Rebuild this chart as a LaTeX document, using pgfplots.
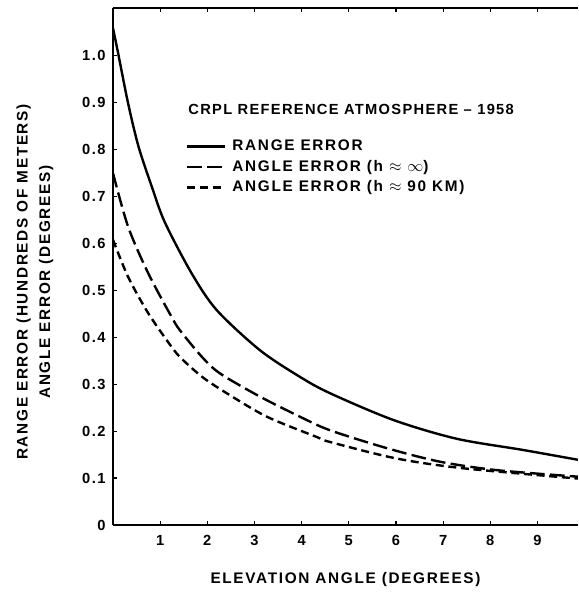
\documentclass[border=0pt]{standalone}
\usepackage{fontspec}
\setmainfont{Liberation Sans}
\newfontfamily\labfont[LetterSpace=11]{Liberation Sans}
\newfontfamily\titfont[LetterSpace=9]{Liberation Sans}
\usepackage{pgfplots}
\usepackage{pgfplotstable}
\pgfplotsset{compat=1.18}

% values
\pgfplotstableread{
x     y
0     1.059
0.11  1.005
0.32  0.899
0.54  0.807
0.82  0.722
1.10  0.645
1.67  0.536
2.20  0.458
3.11  0.373
3.96  0.316
4.60  0.281
5.94  0.224
7.28  0.184
8.69  0.160
9.86  0.139
}\rangeerr

\pgfplotstableread{
x     y
0     0.750
0.32  0.636
0.75  0.536
1.24  0.444
1.42  0.415
1.88  0.359
2.27  0.323
3.11  0.274
3.96  0.231
4.60  0.202
5.80  0.164
6.93  0.135
8.13  0.117
9.86  0.103
}\angleinf

\pgfplotstableread{
x     y
0     0.608
0.32  0.529
0.75  0.451
1.24  0.380
1.46  0.354
1.90  0.315
2.41  0.281
3.26  0.231
4.31  0.188
4.60  0.177
6.00  0.142
7.42  0.121
9.86  0.099
}\anglenin

\begin{document}
\begin{tikzpicture}
\begin{axis}[
  scale only axis,
  width=348.75pt, height=387.75pt,
  xmin=0, xmax=9.86, ymin=0, ymax=1.102,
  axis x line*=box, axis y line*=left,
  axis line style={line width=1.1pt},
  xtick={1,...,9},
  ytick={0,0.1,...,1.0},
  yticklabels={0,0.1,0.2,0.3,0.4,0.5,0.6,0.7,0.8,0.9,1.0},
  xtick pos=both, ytick pos=left,
  tick align=inside,
  major tick length=3pt,
  tick style={line width=0.9pt, black},
  /pgf/number format/assume math mode=true,
  ticklabel style={font=\labfont\bfseries\fontsize{11}{12}\selectfont},
  xticklabel style={yshift=-4pt},
  yticklabel style={xshift=-2pt},
  xlabel={ELEVATION ANGLE (DEGREES)},
  xlabel style={at={(axis description cs:0.5,-0.106)}, anchor=center,
    font=\labfont\bfseries\fontsize{11.5}{12}\selectfont},
  ylabel={RANGE ERROR (HUNDREDS OF METERS)\\ANGLE ERROR (DEGREES)},
  ylabel style={at={(axis description cs:-0.168,0.47)}, anchor=center,
    align=center, font=\labfont\bfseries\fontsize{11.5}{17}\selectfont},
  legend style={at={(rel axis cs:0.148,0.755)}, anchor=north west,
    draw=none, fill=none, row sep=1.5pt,
    font=\labfont\bfseries\fontsize{11.5}{12}\selectfont},
  legend cell align=left,
  legend image code/.code={\draw[#1] (0pt,0pt) -- (28pt,0pt); \path (31pt,0pt);},
  every axis plot/.append style={line width=1.8pt, black},
]
\addplot[smooth] table {\rangeerr};
\addlegendentry{RANGE ERROR}
\addplot[smooth, dash pattern=on 11pt off 4pt] table {\angleinf};
\addlegendentry{ANGLE ERROR (h $\approx$ $\infty$)}
\addplot[smooth, dash pattern=on 6pt off 3.5pt] table {\anglenin};
\addlegendentry{ANGLE ERROR (h $\approx$ 90 KM)}
\node[anchor=west, font=\titfont\bfseries\fontsize{11}{12}\selectfont]
  at (rel axis cs:0.152,0.803) {CRPL REFERENCE ATMOSPHERE \textendash\ 1958};
\end{axis}
\pgfresetboundingbox
\path[use as bounding box] (-84.75pt,-51.75pt) rectangle (349.5pt,393.75pt);
\end{tikzpicture}
\end{document}
